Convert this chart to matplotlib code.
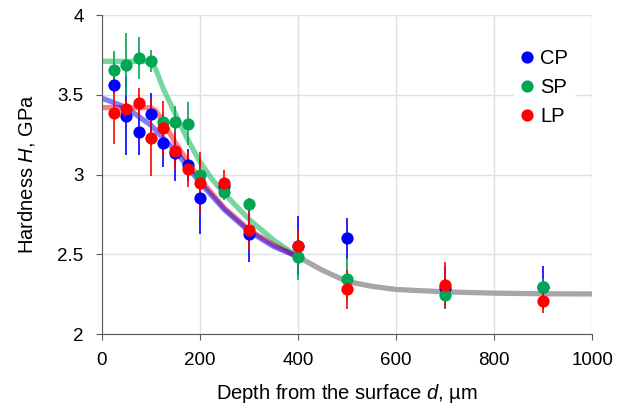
import numpy as np
import matplotlib
matplotlib.use('Agg')
import matplotlib.pyplot as plt
from matplotlib.lines import Line2D

plt.rcParams['font.family'] = ['Liberation Sans', 'DejaVu Sans']
plt.rcParams['mathtext.fontset'] = 'custom'
plt.rcParams['mathtext.rm'] = 'Liberation Sans'
plt.rcParams['mathtext.it'] = 'Liberation Sans:italic'

# measured depths (um)
depth = [25, 50, 75, 100, 125, 150, 175, 200, 250, 300, 400, 500, 700, 900]

# hardness (GPa) and error per condition
cp_h = [3.56, 3.37, 3.27, 3.38, 3.20, 3.135, 3.06, 2.855, 2.93, 2.63, 2.555, 2.60, 2.29, 2.295]
cp_err = [0.05, 0.245, 0.15, 0.13, 0.15, 0.175, 0.10, 0.23, 0.05, 0.18, 0.185, 0.13, 0.13, 0.135]
sp_h = [3.655, 3.69, 3.73, 3.71, 3.33, 3.33, 3.32, 3.0, 2.89, 2.815, 2.485, 2.345, 2.245, 2.295]
sp_err = [0.12, 0.195, 0.13, 0.07, 0.05, 0.10, 0.135, 0.09, 0.05, 0.04, 0.145, 0.135, 0.085, 0.05]
lp_h = [3.385, 3.41, 3.45, 3.23, 3.29, 3.15, 3.035, 2.95, 2.95, 2.65, 2.55, 2.28, 2.31, 2.21]
lp_err = [0.195, 0.06, 0.095, 0.24, 0.17, 0.12, 0.115, 0.19, 0.08, 0.125, 0.11, 0.12, 0.14, 0.08]

# fitted curves
cp_fit_x = [0, 50, 100, 150, 200, 250, 300, 350, 400]
cp_fit_y = [3.48, 3.42, 3.31, 3.15, 2.95, 2.78, 2.645, 2.55, 2.485]
sp_fit_x = [0, 100, 110, 125, 150, 175, 200, 225, 250, 300, 350, 400]
sp_fit_y = [3.71, 3.71, 3.66, 3.54, 3.38, 3.22, 3.08, 2.97, 2.88, 2.72, 2.59, 2.485]
lp_fit_x = [0, 100, 110, 125, 150, 175, 200, 250, 300, 350, 400]
lp_fit_y = [3.42, 3.42, 3.40, 3.33, 3.20, 3.08, 2.97, 2.79, 2.655, 2.56, 2.485]
tail_x = [400, 450, 500, 550, 600, 700, 800, 900, 1000]
tail_y = [2.485, 2.40, 2.33, 2.30, 2.28, 2.265, 2.257, 2.253, 2.252]

blue = '#0000ff'
green = '#00a651'
red = '#ff0000'

fig = plt.figure(figsize=(6.17, 4.07), dpi=100)
ax = fig.add_axes([0.165, 0.179, 0.795, 0.784])

# fit lines under the points
ax.plot(tail_x, tail_y, color='#a6a6a6', lw=3.8, solid_capstyle='butt', zorder=2)
ax.plot(sp_fit_x, sp_fit_y, color='#5fcf8f', alpha=0.85, lw=3.8, solid_capstyle='butt', zorder=2)
ax.plot(lp_fit_x, lp_fit_y, color=red, alpha=0.5, lw=3.8, solid_capstyle='butt', zorder=2)
ax.plot(cp_fit_x, cp_fit_y, color=blue, alpha=0.5, lw=3.8, solid_capstyle='butt', zorder=2)

for h, err, c in [(cp_h, cp_err, blue), (sp_h, sp_err, green), (lp_h, lp_err, red)]:
    ax.errorbar(depth, h, yerr=err, fmt='o', color=c, ms=8.8, mec=c, mew=0,
                elinewidth=1.2, capsize=3.5, capthick=1.2, zorder=3)

ax.set_xlim(0, 1000)
ax.set_ylim(2, 4)
ax.set_xticks(np.arange(0, 1001, 200))
ax.set_yticks([2, 2.5, 3, 3.5, 4])
ax.set_yticklabels(['2', '2.5', '3', '3.5', '4'])
ax.grid(True, color='#e0e0e0', lw=1.0, zorder=0)
ax.set_axisbelow(True)
ax.spines['top'].set_visible(False)
ax.spines['right'].set_visible(False)
ax.spines['left'].set_color('#595959')
ax.spines['bottom'].set_color('#595959')
ax.tick_params(direction='out', length=4, width=0.8, color='#595959', labelsize=13.5)
ax.tick_params(axis='y', pad=9)
ax.tick_params(axis='x', pad=9)

ax.set_xlabel(r'Depth from the surface $\mathit{d}$, µm', fontsize=14.5, labelpad=9)
ax.set_ylabel(r'Hardness $\mathit{H}$, GPa', fontsize=14.5, labelpad=15)

handles = [Line2D([], [], ls='none', marker='o', color=c, ms=8.8, mew=0) for c in (blue, green, red)]
leg = ax.legend(handles, ['CP', 'SP', 'LP'], loc='upper left', bbox_to_anchor=(0.82, 0.945),
                frameon=True, fancybox=False, edgecolor='white', facecolor='white', framealpha=1,
                fontsize=14.5, handlelength=0.7, handletextpad=0.3, labelspacing=0.5,
                borderpad=0.3)

fig.savefig('out.png', dpi=100)
